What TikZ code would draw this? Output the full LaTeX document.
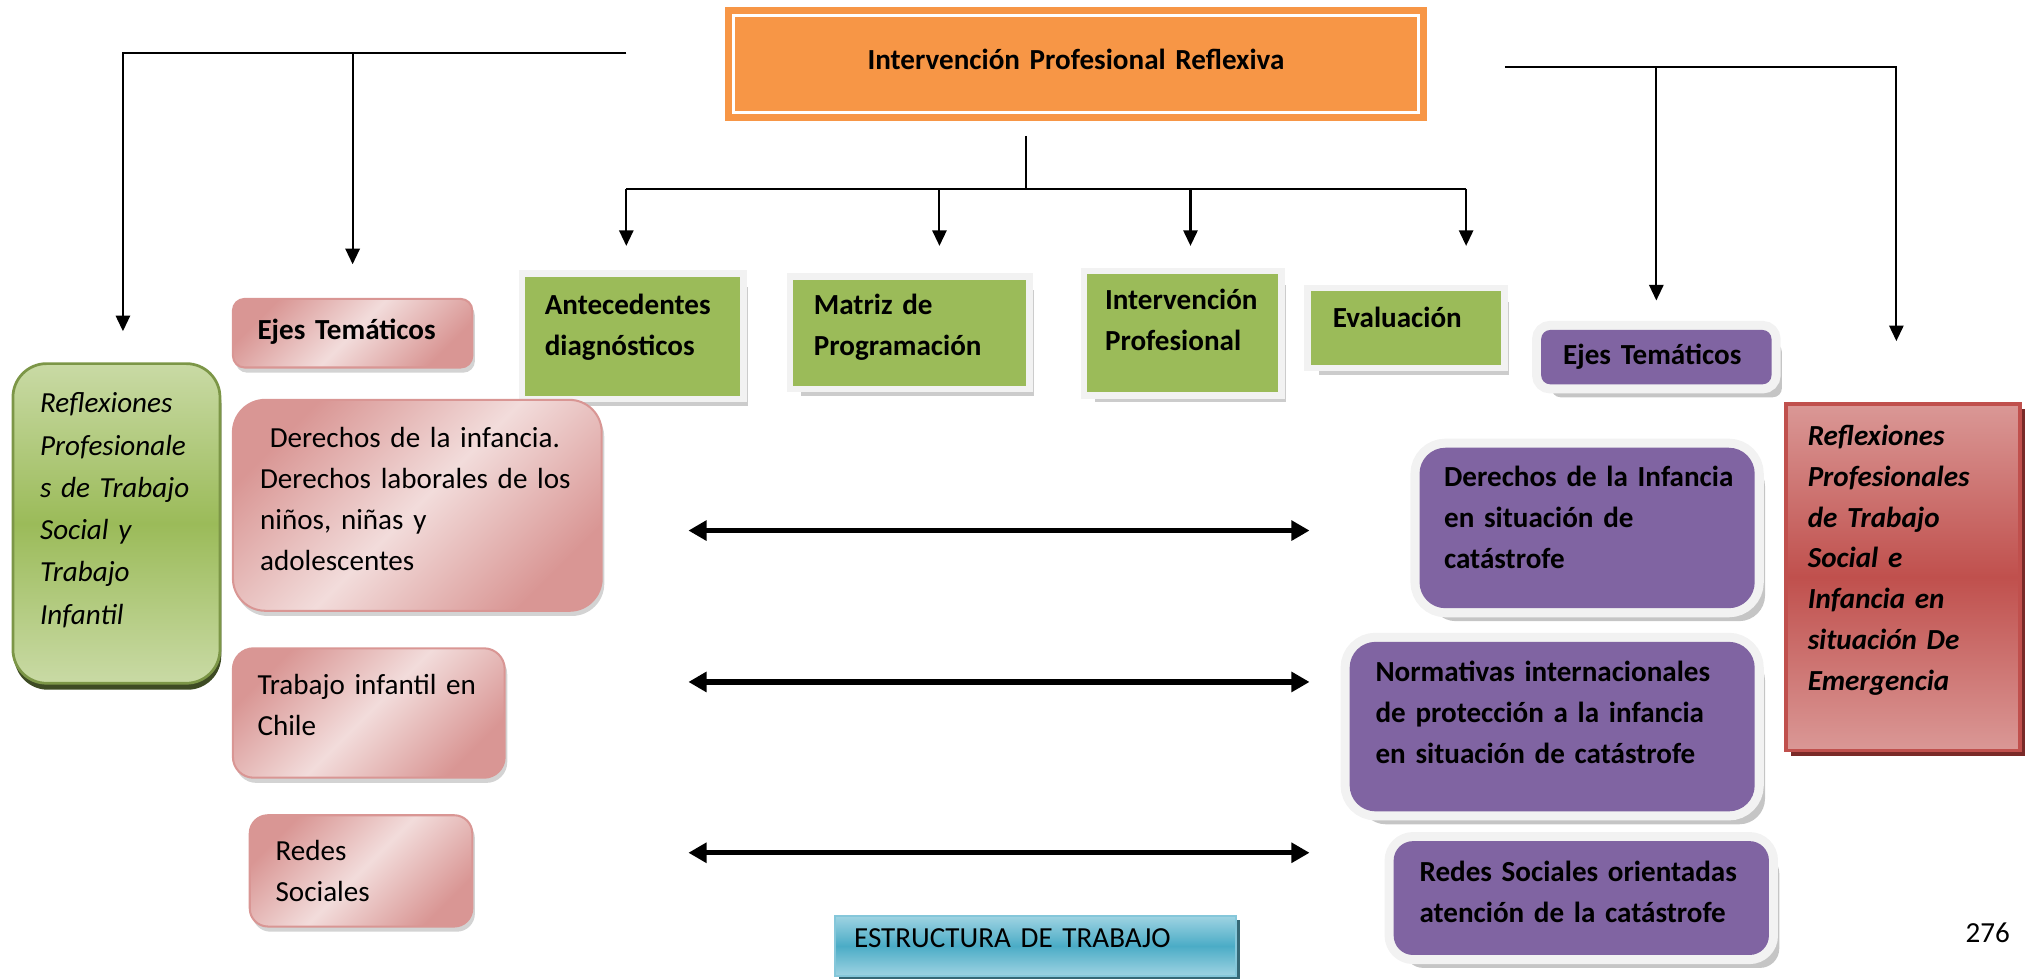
\documentclass[tikz,border=0pt]{standalone}
\usepackage{fontspec}
\setmainfont{Carlito}
\usetikzlibrary{arrows.meta,shadows}
\definecolor{orangeA}{HTML}{F79646}
\definecolor{oliveA}{HTML}{9BBB59}
\definecolor{oliveL}{HTML}{C9DAA5}
\definecolor{pinkD}{HTML}{D99694}
\definecolor{pinkL}{HTML}{F2DCDB}
\definecolor{plumA}{HTML}{8064A2}
\definecolor{redA}{HTML}{C0504D}
\definecolor{redL}{HTML}{DA9896}
\definecolor{redK}{HTML}{7A2A28}
\definecolor{aquaA}{HTML}{4BACC6}
\definecolor{aquaL}{HTML}{9ED3E2}
\definecolor{aquaK}{HTML}{205867}
\hyphenpenalty=10000

\begin{document}
\begin{tikzpicture}[
  line width=0.45pt, >={Triangle[length=1.2mm,width=1.1mm]},
  every node/.style={font=\fontsize{6.4}{9}\selectfont, align=left, inner ysep=0pt},
  dims/.style n args={4}{text width=#1, inner xsep=#2, text height=#3, text depth=#4},
  titlebox/.style={fill=orangeA, draw=white, line width=0.6pt,
                   preaction={draw=orangeA, line width=1.3mm},
                   font=\fontsize{6.4}{9}\selectfont\bfseries, align=center},
  stage/.style={fill=oliveA,
                drop shadow={shadow xshift=0.6mm, shadow yshift=-0.8mm, fill=black!40, opacity=0.5},
                preaction={draw=black!5, line width=1mm},
                font=\fontsize{6.4}{9}\selectfont\bfseries},
  leftaxis/.style={draw=pinkD, left color=pinkD, right color=pinkD, middle color=pinkL,
                   shading angle=45,
                   drop shadow={shadow xshift=0.2mm, shadow yshift=-0.4mm, fill=black!50, opacity=0.35}},
  rightaxis/.style={fill=plumA,
                    drop shadow={shadow xshift=0.8mm, shadow yshift=-1mm, fill=black!45, opacity=0.5},
                    preaction={draw=black!5, line width=1.4mm},
                    font=\fontsize{6.4}{9}\selectfont\bfseries},
  reflgreen/.style={draw=oliveA!80!black, line width=0.6pt, top color=oliveL, bottom color=oliveL,
                    middle color=oliveA,
                    drop shadow={shadow xshift=0.1mm, shadow yshift=-0.5mm, fill=oliveA!40!black, opacity=1},
                    font=\fontsize{6.4}{9.3}\selectfont\itshape},
  reflred/.style={draw=redA, line width=0.8pt, top color=redL, bottom color=redL, middle color=redA,
                  drop shadow={shadow xshift=0.4mm, shadow yshift=-0.4mm, fill=redK, opacity=1},
                  font=\fontsize{6.4}{9}\selectfont\bfseries\itshape},
  banner/.style={draw=aquaL!70!aquaA, top color=aquaL, bottom color=aquaL, middle color=aquaA,
                 drop shadow={shadow xshift=0.3mm, shadow yshift=-0.3mm, fill=aquaK, opacity=0.9}},
  link/.style={<->, >={Triangle[length=1.4mm,width=1.5mm]}, line width=1.2pt}
]
  \useasboundingbox (0,0) rectangle (15.68,-7.56);

  \node[titlebox, dims={5.29cm}{0mm}{4.2mm}{3.3mm}] (top) at (8.315,-0.495)
    {Intervención Profesional Reflexiva};

  \node[stage, dims={1.36cm}{1.5mm}{2.9mm}{6.3mm}] (ant) at (4.89,-2.60) {Antecedentes\\diagnósticos};
  \node[stage, dims={1.48cm}{1.6mm}{2.7mm}{5.5mm}] (mat) at (7.03,-2.57) {Matriz de\\Programación};
  \node[stage, dims={1.20cm}{1.4mm}{2.7mm}{6.4mm}] (intp) at (9.14,-2.575) {Intervención\\Profesional};
  \node[stage, dims={1.13cm}{1.7mm}{2.8mm}{2.9mm}] (eva) at (10.865,-2.535) {Evaluación};

  \node[leftaxis, rounded corners=0.9mm, font=\fontsize{6.4}{9}\selectfont\bfseries,
        dims={1.47cm}{1.9mm}{3.1mm}{2.2mm}] (ejesL) at (2.725,-2.575) {Ejes Temáticos};
  \node[leftaxis, rounded corners=2.5mm, dims={2.43cm}{2.1mm}{3.7mm}{12.6mm}] (derL) at (3.225,-3.905)
    {\ Derechos de la infancia.\\Derechos~laborales~de~los\\niños, niñas y\\adolescentes};
  \node[leftaxis, rounded corners=1.6mm, dims={1.72cm}{1.9mm}{3.6mm}{6.4mm}] (trabL) at (2.85,-5.51)
    {Trabajo~infantil~en\\Chile};
  \node[leftaxis, rounded corners=1.4mm, dims={1.32cm}{2mm}{3.5mm}{5.1mm}] (redL) at (2.79,-6.73)
    {Redes\\Sociales};

  \node[reflgreen, rounded corners=2.6mm, dims={1.18cm}{2.1mm}{3.8mm}{20.9mm}] (reflL) at (0.90,-4.045)
    {Reflexiones\\Profesionale\\s~de~Trabajo\\Social y\\Trabajo\\Infantil};
  \node[reflred, dims={1.47cm}{1.7mm}{3.2mm}{23.6mm}] (reflR) at (14.705,-4.46)
    {Reflexiones\\Profesionales\\de Trabajo\\Social e\\Infancia en\\situación De\\Emergencia};

  \node[rightaxis, rounded corners=0.7mm, dims={1.44cm}{1.7mm}{2.7mm}{1.5mm}] (ejesR) at (12.80,-2.76)
    {Ejes Temáticos};
  \node[rightaxis, rounded corners=2mm, dims={2.21cm}{1.9mm}{3.0mm}{9.4mm}] (derR) at (12.265,-4.08)
    {Derechos~de~la~Infancia\\en situación de\\catástrofe};
  \node[rightaxis, rounded corners=2mm, dims={2.73cm}{2mm}{3.1mm}{10mm}] (normR) at (11.995,-5.615)
    {Normativas~internacionales\\de~protección~a~la~infancia\\en~situación~de~catástrofe};
  \node[rightaxis, rounded corners=1.5mm, dims={2.50cm}{2mm}{3.1mm}{5.7mm}] (redR) at (12.22,-6.94)
    {Redes~Sociales~orientadas\\atención~de~la~catástrofe};

  \node[banner, dims={2.80cm}{1.5mm}{2.4mm}{2.2mm}] (estr) at (8.00,-7.31) {ESTRUCTURA DE TRABAJO};
  \node[inner sep=0pt] (pg) at (15.36,-7.21) {276};

  \coordinate (tl) at (4.84,-0.41);
  \coordinate (tr) at (11.63,-0.52);
  \draw[->, shorten >=2.4mm] (tl) -| ([xshift=0.5mm]reflL.north);
  \draw[->, shorten >=2.6mm] (tl -| ejesL.north) -- (ejesL.north);
  \draw[->, shorten >=4.7mm] (tr) -| ([xshift=-0.5mm]reflR.north);
  \draw[->, shorten >=2.2mm] (tr -| ejesR.north) -- (ejesR.north);

  \coordinate (stem) at (7.93,-1.05);
  \coordinate (hub) at (7.93,-1.46);
  \draw (stem) -- (hub);
  \foreach \i/\x in {1/4.84,2/7.26,3/9.20,4/11.33}
    \coordinate (d\i) at (\x,-1.90);
  \draw (hub -| d1) -- (hub -| d4);
  \foreach \i in {1,...,4}
    \draw[->] (hub -| d\i) -- (d\i);

  \foreach \i/\y in {1/-4.10,2/-5.27,3/-6.59}{
    \coordinate (l\i) at (5.32,\y);
    \coordinate (r\i) at (10.12,\y);
    \draw[link] (l\i) -- (r\i);
  }
\end{tikzpicture}
\end{document}
